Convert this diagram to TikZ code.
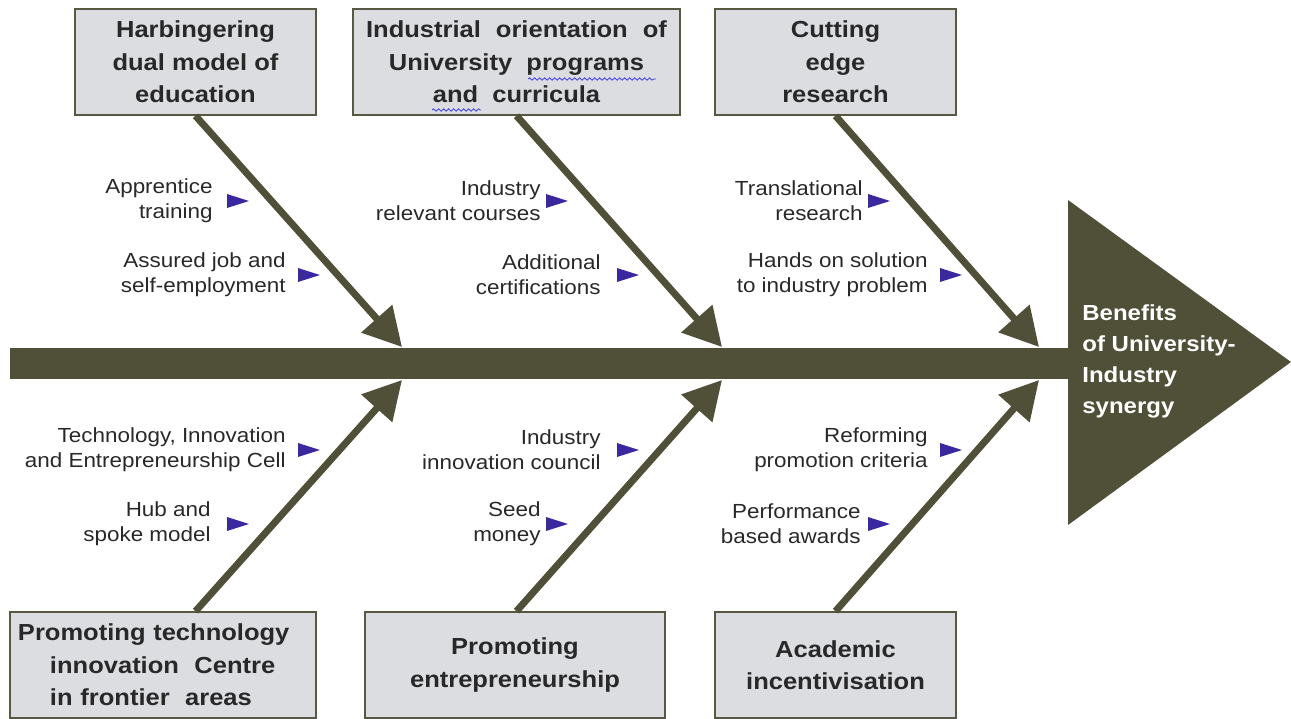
\documentclass[tikz,border=0pt]{standalone}
\usepackage{fontspec}
\setmainfont{Liberation Sans}[FakeStretch=1.1]
\usetikzlibrary{positioning,arrows.meta,decorations.pathmorphing}

\definecolor{boneolive}{RGB}{80,80,56}
\definecolor{boxgray}{RGB}{220,221,224}
\definecolor{boxline}{RGB}{88,88,66}
\definecolor{markblue}{RGB}{58,40,160}
\definecolor{spellblue}{RGB}{60,60,230}
\definecolor{inkgray}{RGB}{40,40,40}

\tikzset{
  cause/.style={draw=boxline, line width=0.8pt, fill=boxgray, minimum height=53pt,
    inner sep=2pt, align=center, text=inkgray, font=\bfseries\fontsize{11.6}{16.3}\selectfont},
  bone/.style={draw=boneolive, line width=3.5pt, -{Triangle[length=19pt,width=20pt]}},
  sub/.style={inner sep=0pt, align=right, text=inkgray, font=\fontsize{10.2}{12.6}\selectfont},
  flag/.pic={\fill[markblue] (0,-7) -- (22,0) -- (0,7) -- cycle;},
  spell/.style={draw=spellblue, line width=0.4pt, decorate,
    decoration={snake, amplitude=0.6pt, segment length=2.5pt}}
}

\begin{document}
\begin{tikzpicture}[x=0.5pt,y=-0.5pt,node distance=6pt]
\useasboundingbox (0,0) rectangle (1291,718);

% spine and head
\fill[boneolive] (10,348) rectangle (1070,379);
\fill[boneolive] (1068,200) -- (1291,362) -- (1068,525) -- cycle;
\node[anchor=west, inner sep=0pt, align=left, text=white,
  font=\bfseries\fontsize{10.9}{15.5}\selectfont] (eff) at (1082,361)
  {Benefits\\of University-\\Industry\\synergy};

% cause boxes
\node[cause, minimum width=120.5pt] (c1) at (195.5,62) {Harbingering\\dual model of\\education};
\node[cause, minimum width=163.5pt] (c2) at (516.5,62)
  {Industrial\hspace{7.5pt}orientation\hspace{7.5pt}of\\University\ \ programs\\and\ \ curricula};
\node[cause, minimum width=120.5pt] (c3) at (835.5,62) {Cutting\\edge\\research};
\node[cause, minimum width=153pt, text width=145pt, align=left] (c4) at (163,665)
  {Promoting technology\\\hspace*{16pt}innovation\ \ Centre\\\hspace*{16pt}in frontier\ \ areas};
\node[cause, minimum width=150pt] (c5) at (515,665) {Promoting\\entrepreneurship};
\node[cause, minimum width=120.5pt] (c6) at (835.5,665) {Academic\\incentivisation};

% spell check marks
\draw[spell] (528,79) -- (656,79);
\draw[spell] (432,110) -- (481,110);

% bones
\coordinate (t1) at (402,347);
\coordinate (t2) at (722,347);
\coordinate (t3) at (1039,347);
\coordinate (t4) at (402,380);
\coordinate (t5) at (722,380);
\coordinate (t6) at (1039,380);
\draw[bone] (c1.south) -- (t1);
\draw[bone] (c2.south) -- (t2);
\draw[bone] (c3.south) -- (t3);
\draw[bone] (c1.south |- c4.north) -- (t4);
\draw[bone] (c2.south |- c5.north) -- (t5);
\draw[bone] (c3.south |- c6.north) -- (t6);

% sub causes
\path (227,201) coordinate (m1) pic {flag};
\path (298,275) coordinate (m2) pic {flag};
\path (546,201) coordinate (m3) pic {flag};
\path (617,275) coordinate (m4) pic {flag};
\path (868,201) coordinate (m5) pic {flag};
\path (940,275) coordinate (m6) pic {flag};
\path (298,450) coordinate (m7) pic {flag};
\path (227,524) coordinate (m8) pic {flag};
\path (617,450) coordinate (m9) pic {flag};
\path (546,524) coordinate (m10) pic {flag};
\path (940,450) coordinate (m11) pic {flag};
\path (868,524) coordinate (m12) pic {flag};

\node[sub, left=7pt of m1]   (s1)  {Apprentice\\training};
\node[sub, left=of m2]       (s2)  {Assured job and\\self-employment};
\node[sub, left=2.5pt of m3] (s3)  {Industry\\relevant courses};
\node[sub, left=8pt of m4]   (s4)  {Additional\\certifications};
\node[sub, left=2.5pt of m5] (s5)  {Translational\\research};
\node[sub, left=of m6]       (s6)  {Hands on solution\\to industry problem};
\node[sub, left=of m7]       (s7)  {Technology, Innovation\\and Entrepreneurship Cell};
\node[sub, left=8pt of m8]   (s8)  {Hub and\\spoke model};
\node[sub, left=8pt of m9]   (s9)  {Industry\\innovation council};
\node[sub, left=2.5pt of m10] (s10) {Seed\\money};
\node[sub, left=of m11]      (s11) {Reforming\\promotion criteria};
\node[sub, left=3.5pt of m12] (s12) {Performance\\based awards};
\end{tikzpicture}
\end{document}
